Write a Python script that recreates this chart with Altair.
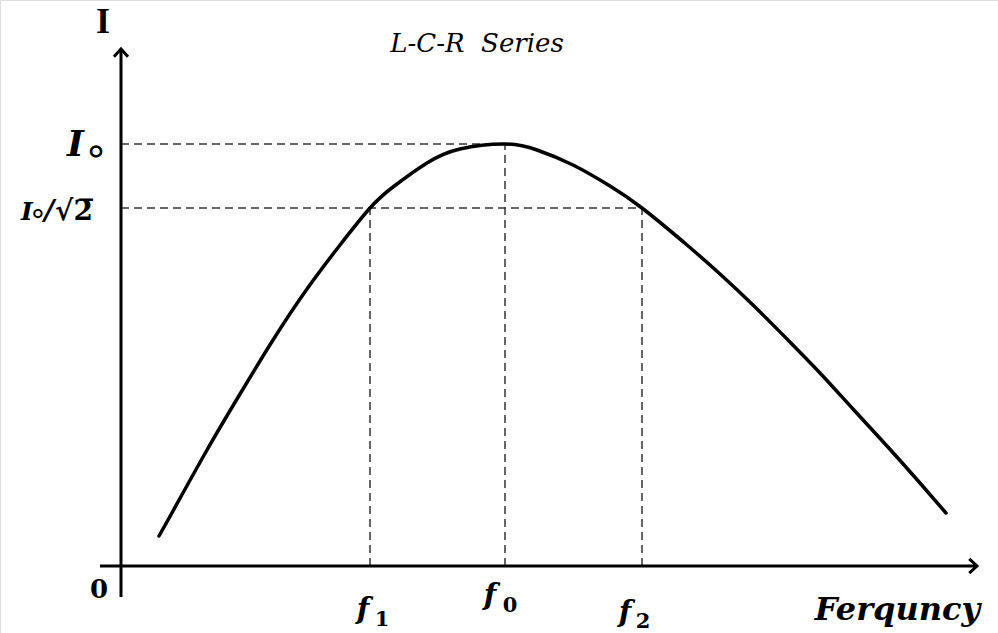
import altair as alt
import pandas as pd

# Resonance curve of a series L-C-R circuit (arbitrary units)
freq = [38, 52, 86, 119, 152, 186, 219, 249, 272, 306, 339, 384, 416,
        452, 489, 521, 566, 599, 632, 666, 699, 732, 766, 799, 825]
current = [30, 55, 116, 172, 226, 277, 321, 358, 379, 403, 417, 422, 416,
           401, 380, 358, 321, 292, 261, 227, 193, 157, 120, 83, 53]

f1, f0, f2 = 249, 384, 521          # lower half-power, resonant, upper half-power
I0, I_half = 422, 358                # peak current and half-power level
x_end, y_end = 856, 517              # arrow tips of the two axes
x_start, y_start = -21, -31          # axis lines poke past the origin

X = alt.Scale(domain=[-121, 877], nice=False, zero=False)
Y = alt.Scale(domain=[-67, 566], nice=False, zero=False)


def xe(field="x"):
    return alt.X(f"{field}:Q", scale=X, axis=None)


def ye(field="y"):
    return alt.Y(f"{field}:Q", scale=Y, axis=None)


curve_df = pd.DataFrame({"x": freq, "y": current})
curve = alt.Chart(curve_df).mark_line(
    color="black", strokeWidth=3.5, interpolate="natural", strokeCap="round"
).encode(x=xe(), y=ye())

# axis lines
axes_df = pd.DataFrame({
    "x": [x_start, 0], "x2": [x_end, 0],
    "y": [0, y_start], "y2": [0, y_end],
})
axes = alt.Chart(axes_df).mark_rule(color="black", strokeWidth=3).encode(
    x=xe(), x2="x2:Q", y=ye(), y2="y2:Q"
)

# open arrowheads
heads_df = pd.DataFrame({"x": [x_end, 0], "y": [0, y_end], "a": [90, 0]})
heads = alt.Chart(heads_df).mark_point(
    shape="M-1,1.1 L0,0 L1,1.1", filled=False, color="black",
    strokeWidth=3, size=200, opacity=1
).encode(x=xe(), y=ye(), angle=alt.Angle("a:Q", scale=None))

# dashed guide lines
guides_df = pd.DataFrame({
    "x": [0, 0, f1, f0, f2],
    "x2": [f0, f2, f1, f0, f2],
    "y": [I0, I_half, 0, 0, 0],
    "y2": [I0, I_half, I_half, I0, I_half],
})
guides = alt.Chart(guides_df).mark_rule(
    color="#333333", strokeWidth=1.5, strokeDash=[8, 5]
).encode(x=xe(), x2="x2:Q", y=ye(), y2="y2:Q")

SERIF = "DejaVu Serif"


def label(text, x, y, size, dx=0, dy=0, style="normal", weight="bold",
          align="center", font=SERIF, baseline="alphabetic"):
    return alt.Chart(pd.DataFrame({"x": [x], "y": [y], "t": [text]})).mark_text(
        font=font, fontSize=size, fontStyle=style, fontWeight=weight,
        align=align, baseline=baseline, dx=dx, dy=dy, color="black"
    ).encode(x=xe(), y=ye(), text="t:N")


texts = [
    # axis names and title
    label("I", 0, y_end, 36, dx=-18, dy=-16, font="Liberation Serif"),
    label("L-C-R\u00a0 Series", f0, y_end, 26, dx=-28, dy=3, style="italic",
          weight="normal"),
    label("Ferquncy", x_end, 0, 32, dx=3, dy=54, style="italic", align="right"),
    label("0", 0, 0, 26, dx=-22, dy=32),
    # current levels
    label("I", 0, I0, 36, dx=-54, dy=12, style="italic", align="left"),
    label("∘", 0, I0, 40, dx=-25, dy=20, weight="normal", font="DejaVu Sans"),
    label("I", 0, I_half, 25, dx=-100, dy=12, style="italic", align="left"),
    label("∘", 0, I_half, 30, dx=-83, dy=15, weight="normal", font="DejaVu Sans"),
    label("/", 0, I_half, 28, dx=-72, dy=12, style="italic"),
    label("√2̅", 0, I_half, 28, dx=-66, dy=12, align="left"),
    # frequency marks
    label("f", f1, 0, 29, dx=-7, dy=53, style="italic"),
    label("1", f1, 0, 21, dx=12, dy=60),
    label("f", f0, 0, 29, dx=-15, dy=39, style="italic"),
    label("0", f0, 0, 21, dx=5, dy=46),
    label("f", f2, 0, 29, dx=-17, dy=56, style="italic"),
    label("2", f2, 0, 21, dx=1, dy=62),
]

chart = alt.layer(guides, curve, axes, heads, *texts).properties(
    width=998, height=633,
    autosize=alt.AutoSizeParams(type="none"), padding=0,
).configure_view(stroke=None).configure(background="white")

chart.save("out.html", embed_options={"renderer": "svg", "actions": False})
